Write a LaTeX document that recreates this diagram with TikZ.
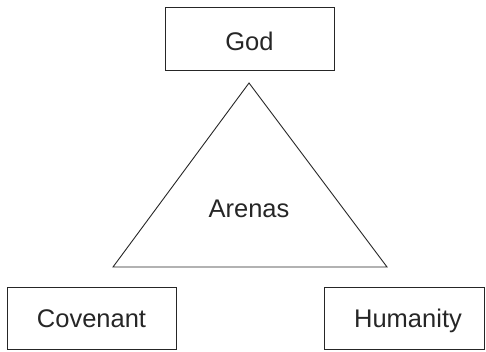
\documentclass[tikz,border=0pt]{standalone}
\usepackage{fontspec}
\setmainfont{Liberation Sans}
\begin{document}
\begin{tikzpicture}[x=1pt,y=-1pt,
  lbl/.style={font=\fontsize{25.5}{30}\selectfont, text=black!85, anchor=base, inner sep=0pt},
  boxstyle/.style={draw=black!85, line width=0.9pt}]
\useasboundingbox (0,0) rectangle (486,351);
\draw[boxstyle] (165,7) rectangle (334,70);
\node[lbl] (god) at (249.5,50) {God};
\coordinate (apex) at (249,83);
\coordinate (bl) at (113,267);
\coordinate (br) at (387,267);
\draw[boxstyle, line join=miter] (apex) -- (br) -- (bl) -- cycle;
\node[lbl] (arenas) at (249,217) {Arenas};
\draw[boxstyle] (7,287) rectangle (176,349);
\node[lbl] (cov) at (91.5,327) {Covenant};
\draw[boxstyle] (324,287) rectangle (484,349);
\node[lbl] (hum) at (408,327) {Humanity};
\end{tikzpicture}
\end{document}
